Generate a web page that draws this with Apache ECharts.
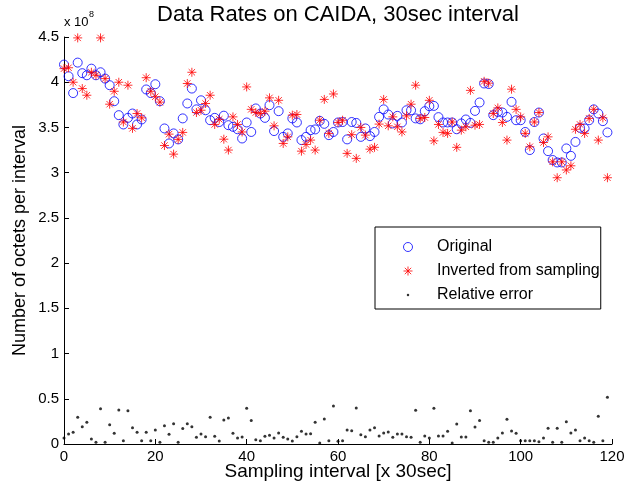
<!DOCTYPE html>
<html>
<head>
<meta charset="utf-8">
<script src="https://cdn.jsdelivr.net/npm/echarts@6/dist/echarts.min.js"></script>
<style>html,body{margin:0;padding:0;background:#fff;}#c{width:626px;height:488px;}</style>
</head>
<body>
<div id="c"></div>
<script>
// Values in units of 1e8 octets
const original = [
4.195,4.066,3.88,4.217,4.10,4.077,4.15,4.077,4.11,4.04,
3.967,3.79,3.636,3.533,3.606,3.654,3.533,3.588,3.92,3.88,
3.978,3.79,3.489,3.323,3.434,3.368,3.60,3.765,3.93,3.70,
3.80,3.69,3.58,3.606,3.56,3.63,3.525,3.507,3.48,3.378,
3.555,3.45,3.71,3.654,3.606,3.746,3.46,3.68,3.396,3.434,
3.60,3.555,3.36,3.396,3.47,3.478,3.573,3.54,3.415,3.45,
3.555,3.56,3.368,3.56,3.55,3.396,3.489,3.404,3.45,3.617,
3.70,3.643,3.544,3.628,3.555,3.69,3.69,3.60,3.59,3.68,
3.735,3.738,3.614,3.555,3.555,3.555,3.48,3.544,3.588,3.55,
3.683,3.776,3.986,3.98,3.636,3.672,3.665,3.617,3.783,3.58,
3.58,3.45,3.25,3.56,3.665,3.378,3.238,3.14,3.113,3.113,
3.268,3.186,3.34,3.496,3.489,3.58,3.70,3.654,3.57,3.445
];
const inverted = [
4.15,4.16,4.00,4.49,3.93,3.856,4.11,4.077,4.49,4.04,
3.757,3.90,4.00,3.56,3.967,3.49,3.654,3.606,4.05,3.90,
3.84,3.78,3.30,3.426,3.205,3.368,3.445,3.986,4.11,3.665,
3.69,3.765,3.856,3.533,3.59,3.37,3.25,3.617,3.533,3.45,
3.948,3.70,3.665,3.654,3.68,3.827,3.518,3.80,3.323,3.396,
3.636,3.643,3.238,3.312,3.36,3.25,3.58,3.81,3.434,3.87,
3.555,3.58,3.213,3.42,3.158,3.50,3.415,3.26,3.28,3.537,
3.81,3.518,3.617,3.507,3.45,3.628,3.757,3.967,3.60,3.61,
3.80,3.352,3.533,3.445,3.434,3.56,3.28,3.47,3.507,3.91,
3.525,3.533,4.01,3.99,3.654,3.716,3.555,3.36,3.923,3.70,
3.617,3.434,3.286,3.56,3.665,3.334,3.396,3.12,2.944,3.12,
3.03,3.076,3.48,3.533,3.434,3.60,3.70,3.36,3.606,2.944
];
const relError = [
0.066,0.11,0.13,0.295,0.19,0.24,0.055,0.018,0.39,0.018,
0.214,0.118,0.376,0.037,0.368,0.18,0.13,0.037,0.13,0.037,
0.155,0.018,0.203,0.107,0.225,0.018,0.17,0.225,0.19,0.074,
0.11,0.081,0.295,0.085,0.033,0.265,0.287,0.118,0.066,0.077,
0.394,0.26,0.048,0.037,0.085,0.096,0.066,0.122,0.074,0.055,
0.033,0.081,0.14,0.11,0.114,0.24,0.011,0.276,0.037,0.42,
0.03,0.037,0.155,0.147,0.398,0.103,0.081,0.155,0.18,0.088,
0.122,0.133,0.074,0.11,0.11,0.081,0.074,0.372,0.018,0.088,
0.066,0.394,0.088,0.088,0.14,0.011,0.221,0.077,0.077,0.368,
0.188,0.26,0.037,0.018,0.018,0.066,0.122,0.273,0.144,0.118,
0.037,0.037,0.037,0.037,0.026,0.066,0.173,0.018,0.173,0.018,
0.247,0.122,0.155,0.037,0.066,0.037,0.018,0.306,0.037,0.516
];
const sampleIndex = original.map((_, i) => i);
const seriesNames = ['Original', 'Inverted from sampling', 'Relative error'];
const xTicks = [0, 20, 40, 60, 80, 100, 120];
const yTicks = [0, 0.5, 1, 1.5, 2, 2.5, 3, 3.5, 4, 4.5];

const FONT = 'Liberation Sans, Arial, Helvetica, sans-serif';
const STAR = 'path://M0,-1L0,1M-1,0L1,0M-0.71,-0.71L0.71,0.71M-0.71,0.71L0.71,-0.71';
const DOT_ICON = 'path://M-5,-5L-5,-5M5,5L5,5M-1.4,0A1.4,1.4,0,1,1,1.4,0A1.4,1.4,0,1,1,-1.4,0Z';

const pairs = arr => sampleIndex.map((x, i) => [x, arr[i]]);

const chart = echarts.init(document.getElementById('c'), null, {renderer: 'canvas'});
chart.setOption({
  animation: false,
  backgroundColor: '#fff',
  textStyle: {fontFamily: FONT},
  title: {
    text: 'Data Rates on CAIDA, 30sec interval',
    left: 338, top: 4, padding: 0, textAlign: 'center',
    textStyle: {fontFamily: FONT, fontSize: 22, fontWeight: 'normal', color: '#000'}
  },
  graphic: [
    {type: 'text', x: 64, y: 22, style: {text: 'x 10', fontFamily: FONT, fontSize: 13, fill: '#000', verticalAlign: 'middle', align: 'left'}},
    {type: 'text', x: 89, y: 15, style: {text: '8', fontFamily: FONT, fontSize: 9, fill: '#000', verticalAlign: 'middle', align: 'left'}}
  ],
  grid: {left: 64, right: 14, top: 37, bottom: 44, containLabel: false, outerBoundsMode: 'none'},
  legend: {
    orient: 'vertical',
    left: 375, top: 227,
    padding: [12, 1, 6, 28],
    itemGap: 8,
    itemWidth: 48, itemHeight: 9,
    borderColor: '#000', borderWidth: 1,
    backgroundColor: '#fff',
    selectedMode: false,
    textStyle: {fontFamily: FONT, fontSize: 16, color: '#000'},
    data: [
      {name: seriesNames[0], icon: 'circle', itemStyle: {color: 'rgba(0,0,0,0)', borderColor: '#0000ff', borderWidth: 1}},
      {name: seriesNames[1], icon: STAR, itemStyle: {color: 'rgba(0,0,0,0)', borderColor: '#ff0000', borderWidth: 1}},
      {name: seriesNames[2], icon: DOT_ICON, itemStyle: {color: '#000', borderWidth: 0}}
    ]
  },
  xAxis: {
    type: 'value', min: 0, max: 120, interval: 20,
    name: 'Sampling interval [x 30sec]', nameLocation: 'middle', nameGap: 18, nameMoveOverlap: false,
    nameTextStyle: {fontFamily: FONT, fontSize: 19, color: '#000'},
    axisLine: {show: true, lineStyle: {color: '#000', width: 1}},
    axisTick: {show: true, inside: true, length: 5, lineStyle: {color: '#000'}},
    axisLabel: {fontFamily: FONT, fontSize: 15, color: '#000', margin: 5},
    splitLine: {show: false}
  },
  yAxis: {
    type: 'value', min: 0, max: 4.5, interval: 0.5,
    name: 'Number of octets per interval', nameLocation: 'middle', nameGap: 35, nameMoveOverlap: false,
    nameTextStyle: {fontFamily: FONT, fontSize: 18, color: '#000'},
    axisLine: {show: true, lineStyle: {color: '#000', width: 1}},
    axisTick: {show: true, inside: true, length: 5, lineStyle: {color: '#000'}},
    axisLabel: {fontFamily: FONT, fontSize: 15, color: '#000', margin: 5},
    splitLine: {show: false}
  },
  series: [
    {
      name: seriesNames[0], type: 'scatter', data: pairs(original),
      symbol: 'circle', symbolSize: 9,
      itemStyle: {color: 'rgba(0,0,0,0)', borderColor: '#0000ff', borderWidth: 1},
      emphasis: {disabled: true}
    },
    {
      name: seriesNames[1], type: 'scatter', data: pairs(inverted),
      symbol: STAR, symbolSize: 9,
      itemStyle: {color: 'rgba(0,0,0,0)', borderColor: '#ff0000', borderWidth: 1},
      emphasis: {disabled: true}
    },
    {
      name: seriesNames[2], type: 'scatter', data: pairs(relError),
      symbol: 'circle', symbolSize: 3,
      itemStyle: {color: '#000'},
      emphasis: {disabled: true}
    }
  ]
});
</script>
</body>
</html>
